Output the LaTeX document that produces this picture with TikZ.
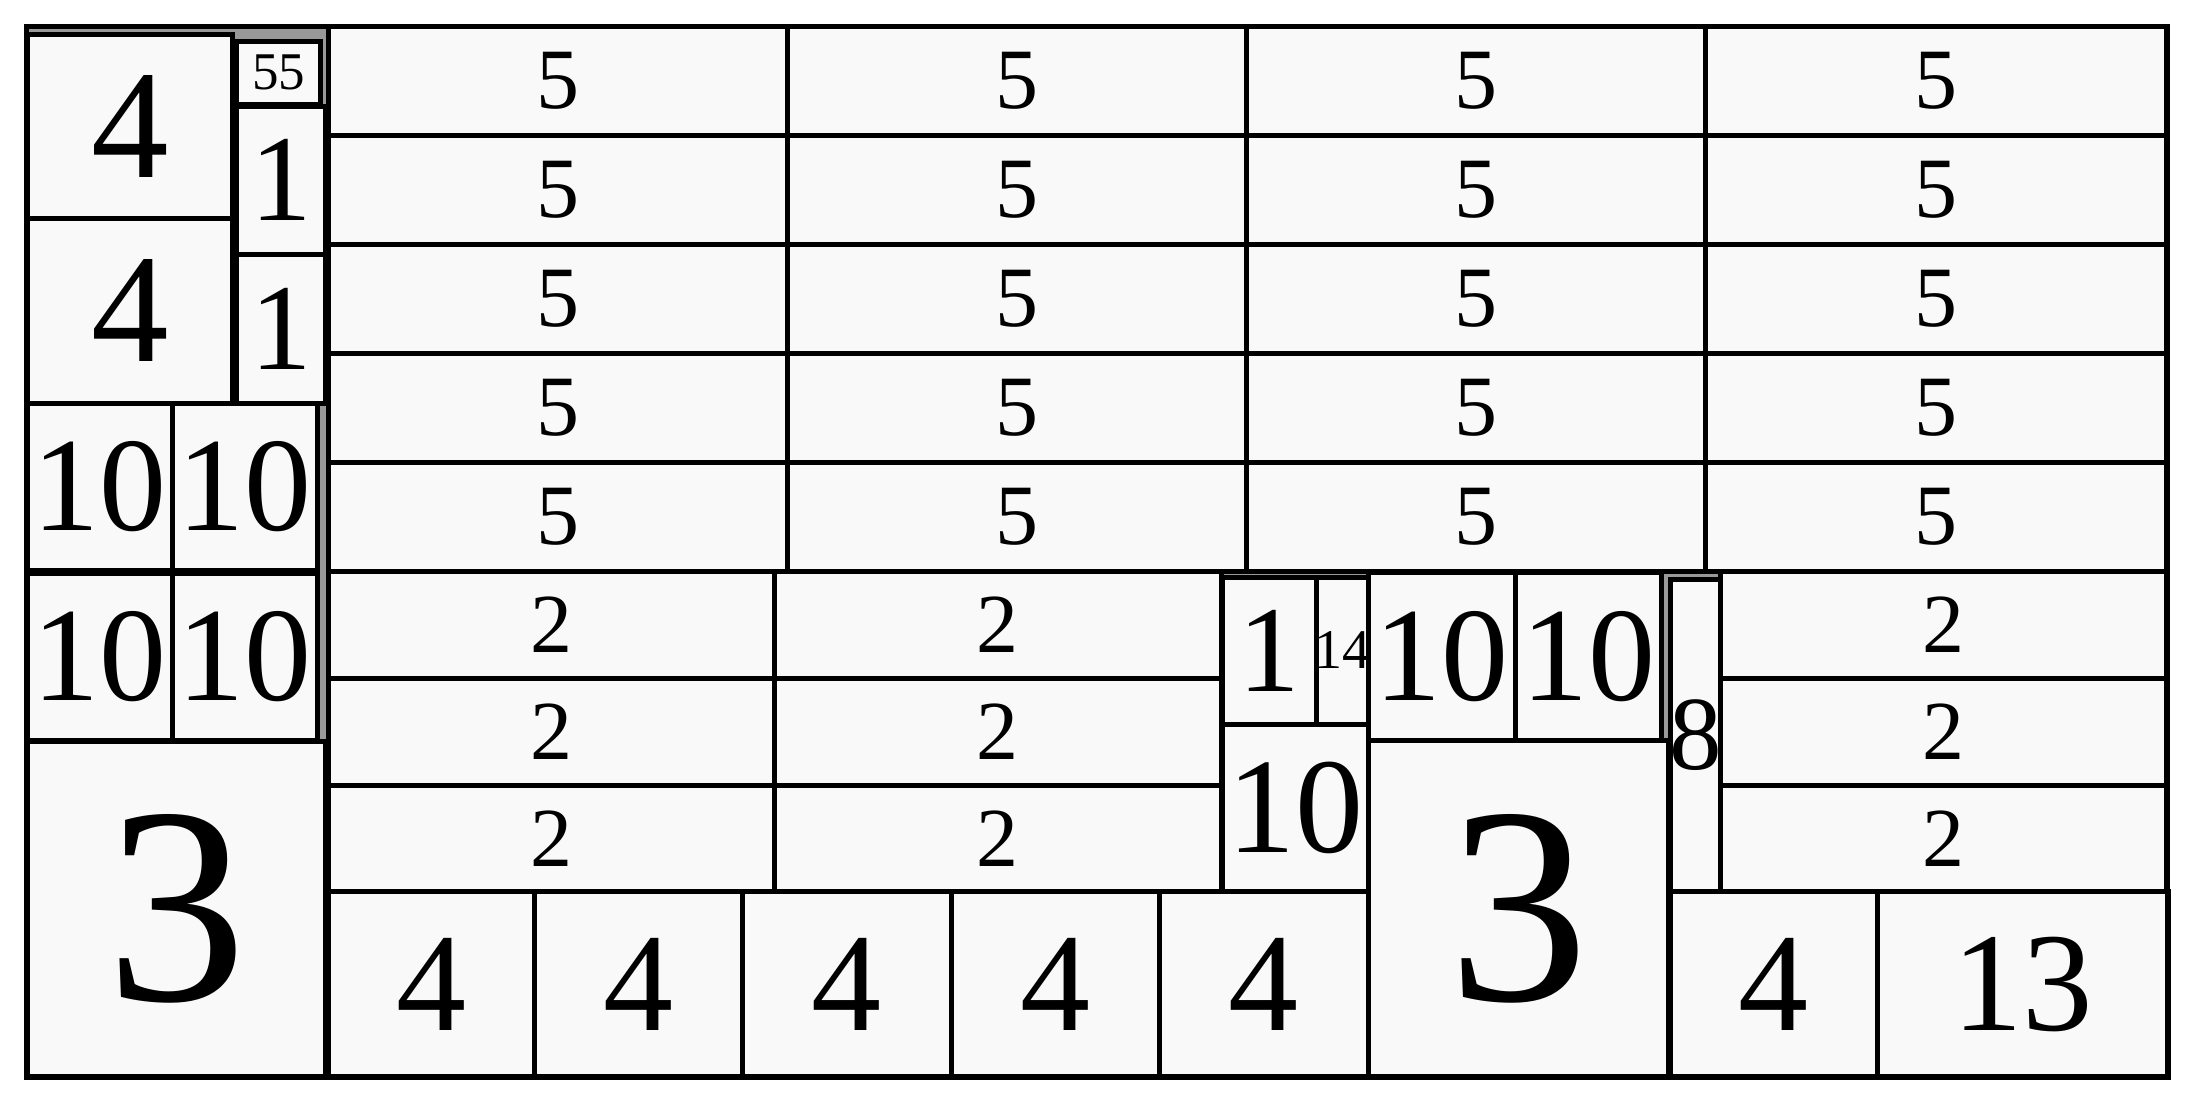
\documentclass[tikz,border=0pt]{standalone}
\usepackage{fontspec}
\setmainfont{Liberation Serif}
\definecolor{grp}{HTML}{999999}
\definecolor{leaffill}{HTML}{F9F9F9}
\tikzset{leafbox/.style={draw=black, fill=leaffill, line width=2.5pt, inner sep=0pt, outer sep=0pt, rectangle}}
% \tmcell{name}{x1}{y1}{x2}{y2}{font size pt}{text}  (coordinates in reference pixels)
\newcommand{\tmcell}[7]{\node[leafbox, minimum width={0.5pt*(#4-#2)}, minimum height={0.5pt*(#5-#3)}, font=\fontsize{#6}{#6}\selectfont] (#1) at ({(#2+#4)/2},{(#3+#5)/2}) {\makebox[0pt]{#7}};}
\begin{document}
\begin{tikzpicture}[x=0.5pt, y=-0.5pt]
\useasboundingbox (0,0) rectangle (2194,1103);
\fill[white] (0,0) rectangle (2194,1103);
\draw[line width=2.7pt, fill=grp] (26.5,26.5) rectangle (2167.5,1077);
% left column
\tmcell{a1}{27}{34}{232.5}{218}{77.5}{4}
\tmcell{a2}{27}{218}{232.5}{403.5}{77.5}{4}
\tmcell{a3}{236.5}{41}{320.5}{104}{26.5}{55}
\tmcell{a4}{236.5}{106.5}{325}{254}{61.5}{1}
\tmcell{a5}{236.5}{254}{325}{403.5}{61.5}{1}
\tmcell{a6}{27}{403.5}{172}{570}{67}{10}
\tmcell{a7}{172}{403.5}{317.5}{570}{67}{10}
\tmcell{a8}{27}{573}{172}{740}{67}{10}
\tmcell{a9}{172}{573}{317.5}{740}{67}{10}
\tmcell{a10}{27}{741.5}{325.5}{1077}{140.5}{3}
% grid of 5
\foreach \xa/\xb [count=\i] in {328/787.5,787.5/1246.5,1246.5/1705.5,1705.5/2166}{
  \foreach \ya/\yb [count=\j] in {26.5/135.4,135.4/244.3,244.3/353.2,353.2/462.1,462.1/571.5}{
    \tmcell{f\i-\j}{\xa}{\ya}{\xb}{\yb}{43}{5}
  }}
% grid of 2 (left)
\foreach \xa/\xb [count=\i] in {328/774,774/1221.5}{
  \foreach \ya/\yb [count=\j] in {571.5/678,678/785,785/891.5}{
    \tmcell{t\i-\j}{\xa}{\ya}{\xb}{\yb}{42}{2}
  }}
% middle
\tmcell{m1}{1222}{577}{1316}{724}{61.5}{1}
\tmcell{m2}{1316}{577}{1368.5}{724}{28}{14}
\tmcell{m3}{1222}{724}{1368.5}{891.5}{68}{10}
\tmcell{m4}{1368.5}{572.5}{1515}{740}{67}{10}
\tmcell{m5}{1515}{572.5}{1661}{740}{67}{10}
\tmcell{m6}{1368.5}{740.5}{1668}{1077}{140.5}{3}
\tmcell{m7}{1670.5}{579.5}{1720.5}{891.5}{52.5}{8}
% grid of 2 (right)
\foreach \ya/\yb [count=\j] in {571.5/678.5,678.5/785,785/891.5}{
  \tmcell{s\j}{1720.5}{\ya}{2166}{\yb}{42}{2}
}
% bottom row of 4
\foreach \xa/\xb [count=\i] in {328/534,534/742.5,742.5/951,951/1159.5,1159.5/1368}{
  \tmcell{b\i}{\xa}{891.5}{\xb}{1077}{70}{4}
}
\tmcell{r1}{1670.5}{891.5}{1877}{1077}{70}{4}
\tmcell{r2}{1877}{891.5}{2168}{1077}{70.5}{13}
\draw[line width=2.7pt] (26.5,26.5) rectangle (2167.5,1077);
\end{tikzpicture}
\end{document}
